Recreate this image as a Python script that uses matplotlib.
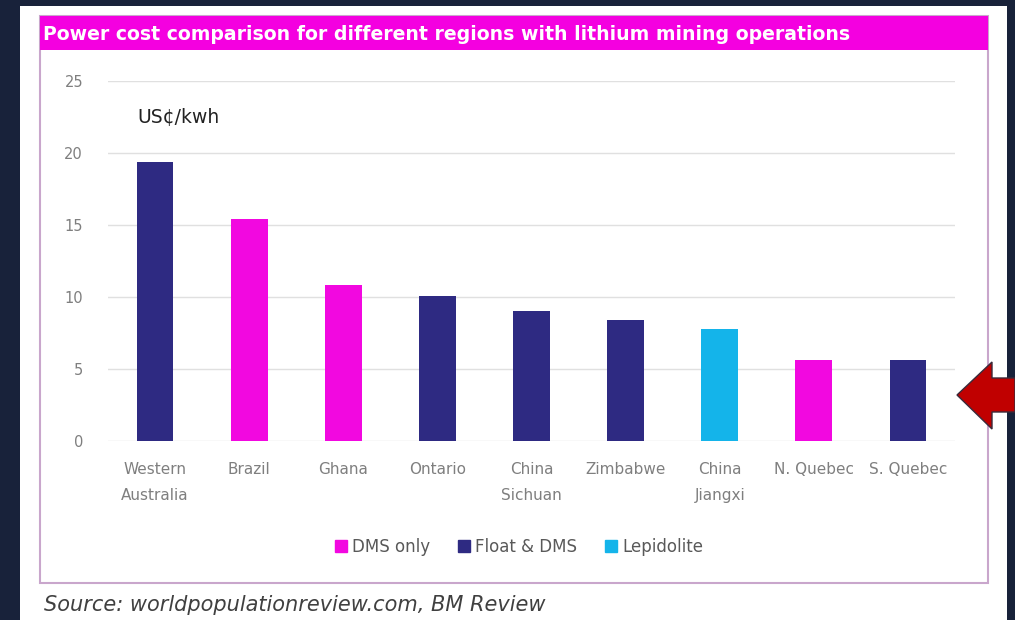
import numpy as np
import matplotlib.pyplot as plt
from matplotlib.patches import Rectangle, Polygon

W, H = 1015, 620

regions = ["Western\nAustralia", "Brazil", "Ghana", "Ontario", "China\nSichuan",
           "Zimbabwe", "China\nJiangxi", "N. Quebec", "S. Quebec"]
cost = [19.4, 15.4, 10.8, 10.1, 9.0, 8.4, 7.8, 5.6, 5.6]
process = ["Float & DMS", "DMS only", "DMS only", "Float & DMS", "Float & DMS",
           "Float & DMS", "Lepidolite", "DMS only", "Float & DMS"]
legend_order = ["DMS only", "Float & DMS", "Lepidolite"]
yticks = [0, 5, 10, 15, 20, 25]

colors = {"DMS only": "#F208E0", "Float & DMS": "#2E2A82", "Lepidolite": "#14B4EA"}

def fx(x):
    return x / W

def fy(y):
    return 1 - y / H

fig = plt.figure(figsize=(W / 100, H / 100), dpi=100)
fig.patch.set_facecolor("#18223A")

# white panel
fig.patches.append(Rectangle((fx(20), fy(620)), fx(1007) - fx(20), fy(6) - fy(620),
                             transform=fig.transFigure, facecolor="white", edgecolor="none", zorder=0))
# chart frame
fig.patches.append(Rectangle((fx(40), fy(583)), fx(988) - fx(40), fy(16) - fy(583),
                             transform=fig.transFigure, facecolor="white", edgecolor="#C9A6CC",
                             linewidth=1.5, zorder=1))
# title bar
fig.patches.append(Rectangle((fx(40), fy(50)), fx(988) - fx(40), fy(16) - fy(50),
                             transform=fig.transFigure, facecolor="#F400E0", edgecolor="none", zorder=2))
fig.text(fx(43), fy(35), "Power cost comparison for different regions with lithium mining operations",
         color="white", fontsize=13.6, fontweight="bold", va="center", ha="left", zorder=3)

ax = fig.add_axes([fx(108), fy(441), fx(955) - fx(108), fy(81) - fy(441)])
ax.set_zorder(3)
ax.set_facecolor("none")
x = np.arange(len(regions))
ax.bar(x, cost, width=0.39, color=[colors[p] for p in process], zorder=3)
ax.set_xlim(-0.5, len(regions) - 0.5)
ax.set_ylim(0, 25)
ax.set_yticks(yticks)
ax.set_xticks(x)
ax.set_xticklabels(regions, color="#7F7F7F", fontsize=11, linespacing=1.9)
ax.tick_params(axis="y", colors="#7F7F7F", labelsize=10.5, length=0, pad=18)
ax.tick_params(axis="x", length=0, pad=15)
ax.grid(axis="y", color="#E0E0E0", linewidth=1, zorder=0)
for s in ax.spines.values():
    s.set_visible(False)

ax.text(0.035, 0.9, "US¢/kwh", transform=ax.transAxes, fontsize=13.5, color="#222222", va="center")

handles = [Rectangle((0, 0), 1, 1, color=colors[k]) for k in legend_order]
leg = fig.legend(handles, legend_order, loc="center", bbox_to_anchor=(fx(519), fy(547)), ncol=3,
                 frameon=False, fontsize=12, labelcolor="#595959", handlelength=0.7,
                 handleheight=0.7, handletextpad=0.3, columnspacing=1.7)
leg.set_zorder(6)

fig.text(fx(44), fy(605), "Source: worldpopulationreview.com, BM Review", fontsize=15,
         style="italic", color="#404040", va="center", ha="left")

# red arrow
pts = [(957, 395), (992, 362), (992, 378), (1015, 378), (1015, 412), (992, 412), (992, 429)]
fig.patches.append(Polygon([(fx(px), fy(py)) for px, py in pts], closed=True,
                           transform=fig.transFigure, facecolor="#C00000", edgecolor="#3A2A3A",
                           linewidth=1, zorder=5))

fig.savefig("out.png", dpi=100, facecolor=fig.get_facecolor())
